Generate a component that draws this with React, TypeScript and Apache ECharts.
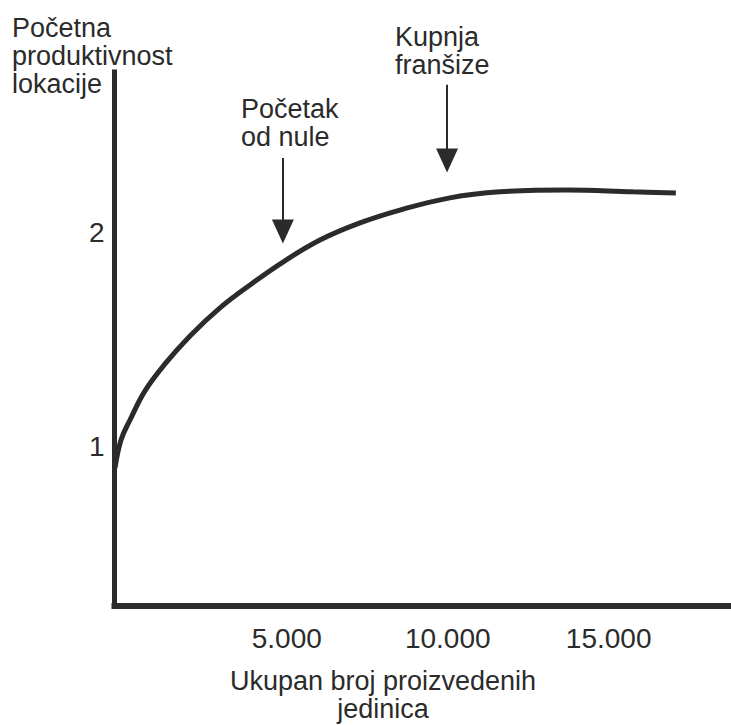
import React, { useEffect, useRef } from "react";
import * as echarts from "echarts";

const curveX = [-334, -148, 131, 597, 1218, 1995, 2926, 3858, 4883, 6032, 7274, 8516, 10069, 11622, 13702, 15752, 17087];
const curveY = [0.902, 1.033, 1.126, 1.262, 1.388, 1.519, 1.65, 1.757, 1.864, 1.967, 2.047, 2.107, 2.164, 2.192, 2.201, 2.192, 2.187];

const xTickValues = [5000, 10000, 15000];
const xTickLabels = ["5.000", "10.000", "15.000"];
const yTickValues = [1, 2];
const yTickLabels = ["1", "2"];

const arrowX = [4880, 9980];
const arrowFromY = [2.35, 2.692];
const arrowToY = [2.007, 2.339];

const yTitle = "Početna\nproduktivnost\nlokacije";
const xTitle = "Ukupan broj proizvedenih\njedinica";
const note1 = "Početak\nod nule";
const note2 = "Kupnja\nfranšize";

const INK = "#2b2b2b";
const FONT = "'Liberation Sans', Arial, sans-serif";
const FS = 27;
const TICK_FS = 28;

export default function App() {
  const ref = useRef<HTMLDivElement>(null);
  useEffect(() => {
    const chart = echarts.init(ref.current!, null, { renderer: "svg" });
    const textStyle = (text: string, align: string = "left") => ({
      text,
      fill: INK,
      font: `${FS}px ${FONT}`,
      lineHeight: 28,
      align,
      verticalAlign: "top",
    });
    chart.setOption({
      animation: false,
      backgroundColor: "#ffffff",
      grid: { left: 114.5, right: 0, top: 72, bottom: 119, containLabel: false, outerBoundsMode: "none" },
      xAxis: {
        type: "value",
        min: -350,
        max: 18800,
        axisLine: { onZero: false, lineStyle: { width: 6, color: INK, cap: "square" } },
        axisTick: { show: false },
        splitLine: { show: false },
        axisLabel: {
          customValues: xTickValues,
          margin: 18,
          color: INK,
          fontSize: TICK_FS,
          fontFamily: FONT,
          formatter: (v: number) => xTickLabels[xTickValues.indexOf(v)] ?? "",
        },
      },
      yAxis: {
        type: "value",
        min: 0.257,
        max: 2.752,
        axisLine: { show: true, onZero: false, lineStyle: { width: 5, color: INK, cap: "square" } },
        axisTick: { show: false },
        splitLine: { show: false },
        axisLabel: {
          customValues: yTickValues,
          margin: 10,
          color: INK,
          fontSize: TICK_FS,
          fontFamily: FONT,
          formatter: (v: number) => yTickLabels[yTickValues.indexOf(v)] ?? "",
        },
      },
      series: [
        {
          type: "line",
          data: curveX.map((x, i) => [x, curveY[i]]),
          smooth: 0.4,
          symbol: "none",
          lineStyle: { width: 5, color: INK },
          markLine: {
            silent: true,
            symbol: ["none", "triangle"],
            symbolSize: [22, 24],
            label: { show: false },
            lineStyle: { width: 2, type: "solid", color: INK },
            itemStyle: { color: INK },
            data: arrowX.map((x, i) => [
              { coord: [x, arrowFromY[i]] },
              { coord: [x, arrowToY[i]] },
            ]),
          },
        },
      ],
      graphic: [
        { type: "text", left: 12, top: 13.5, style: textStyle(yTitle) },
        { type: "text", left: 241, top: 95, style: textStyle(note1) },
        { type: "text", left: 395, top: 22.5, style: textStyle(note2) },
        { type: "text", x: 383, y: 667, style: textStyle(xTitle, "center") },
      ],
    });
    return () => chart.dispose();
  }, []);
  return (
    <div
      ref={ref}
      style={{ position: "absolute", left: 0, top: 0, width: 731, height: 725 }}
    />
  );
}
